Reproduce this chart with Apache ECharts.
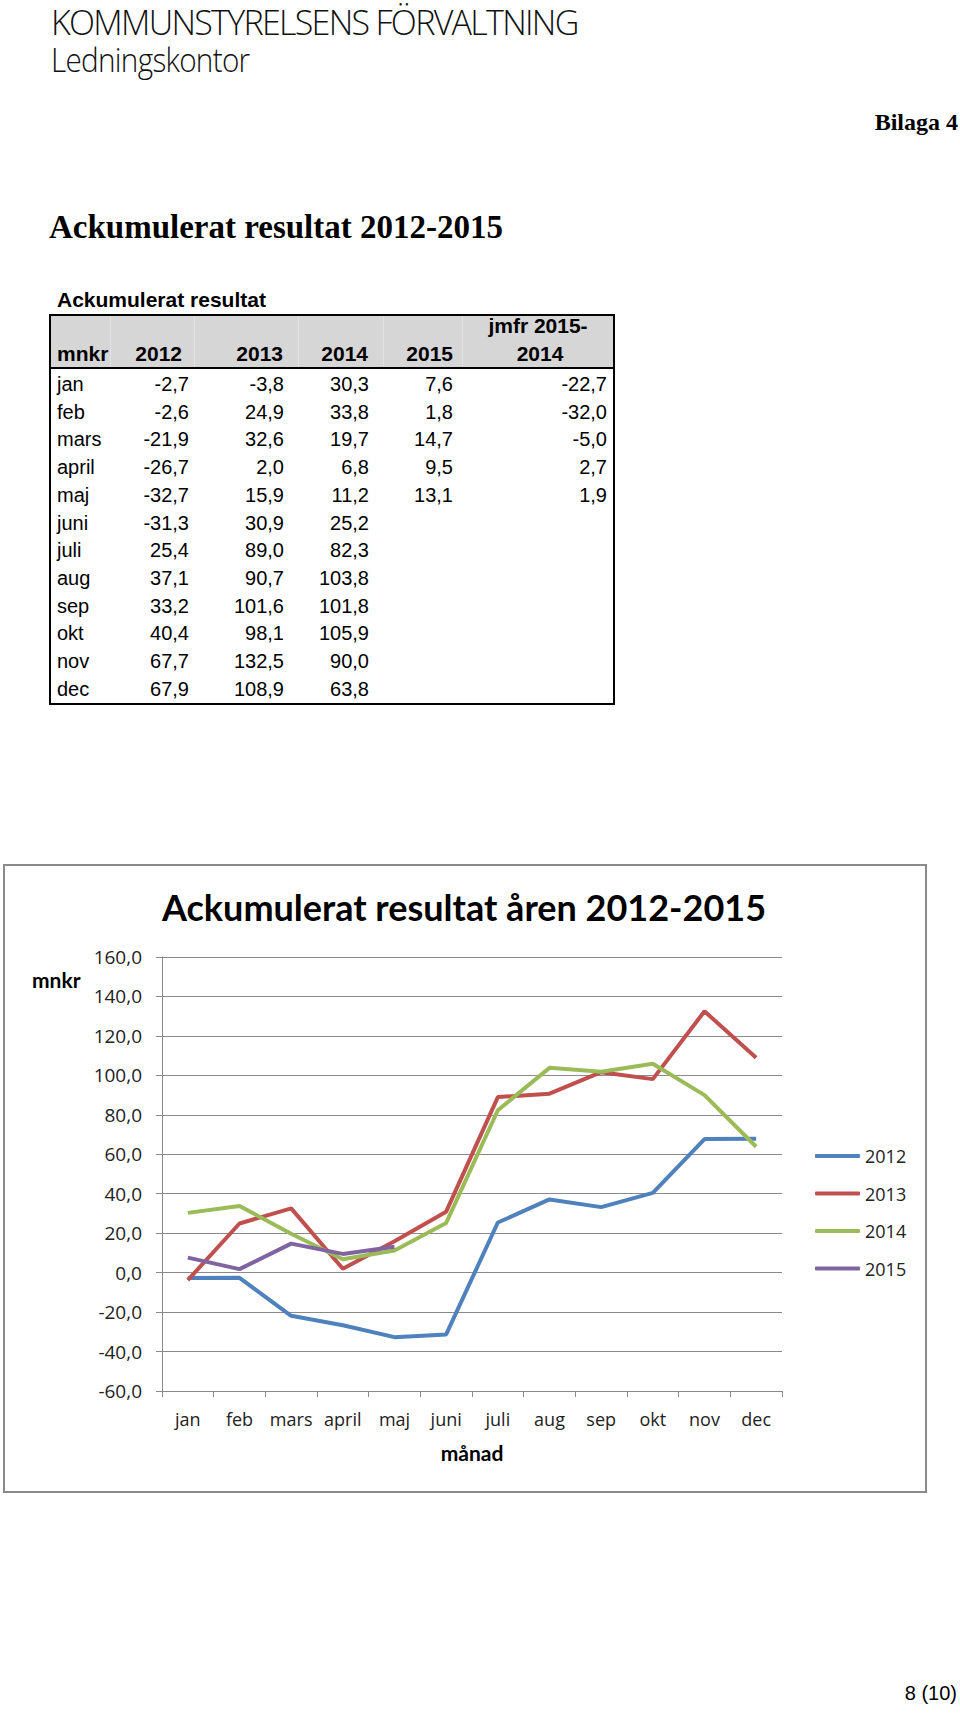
<!DOCTYPE html>
<html>
<head>
<meta charset="utf-8">
<script src="https://cdn.jsdelivr.net/npm/echarts@6/dist/echarts.min.js"></script>
<style>
  html, body { margin: 0; padding: 0; background: #fff; }
  #page { position: relative; width: 960px; height: 1715px; overflow: hidden; }
  #chart { position: absolute; left: 0; top: 0; width: 960px; height: 1715px; z-index: 0; }
  .t { position: absolute; white-space: nowrap; z-index: 1; line-height: 1; }
  .cell { position: absolute; white-space: nowrap; z-index: 2; font-family: "Liberation Sans", Arial, sans-serif; font-size: 20px; line-height: 1; color: #000; }
  .hd { font-weight: bold; font-size: 21px; }
</style>
</head>
<body>
<div id="page">
  <div id="chart"></div>
  <div class="t" style="left:51px; top:3.5px; font-family:'Open Sans',sans-serif; font-weight:300; font-size:34px; line-height:37px; letter-spacing:-1.7px; color:#111;">KOMMUNSTYRELSENS FÖRVALTNING<br><span style="display:inline-block; font-size:33px; line-height:37px; letter-spacing:-0.8px; transform:scaleX(0.9); transform-origin:left center;">Ledningskontor</span></div>
  <div class="t" style="right:2px; top:110px; font-family:'Liberation Serif',serif; font-weight:bold; font-size:24px; color:#000;">Bilaga 4</div>
  <div class="t" style="left:49px; top:211px; font-family:'Liberation Serif',serif; font-weight:bold; font-size:33px; color:#000;">Ackumulerat resultat 2012-2015</div>
  <div class="t" style="left:57px; top:289px; font-family:'Liberation Sans',Arial,sans-serif; font-weight:bold; font-size:21px; color:#000;">Ackumulerat resultat</div>
  <div id="table"></div>
  <div class="t" style="right:3px; top:1683px; font-family:'Liberation Sans',Arial,sans-serif; font-size:20px; color:#000;">8 (10)</div>
</div>
<script>
// ---- data ----
var months = ['jan','feb','mars','april','maj','juni','juli','aug','sep','okt','nov','dec'];
var seriesNames = ['2012','2013','2014','2015'];
var v2012 = [-2.7,-2.6,-21.9,-26.7,-32.7,-31.3,25.4,37.1,33.2,40.4,67.7,67.9];
var v2013 = [-3.8,24.9,32.6,2.0,15.9,30.9,89.0,90.7,101.6,98.1,132.5,108.9];
var v2014 = [30.3,33.8,19.7,6.8,11.2,25.2,82.3,103.8,101.8,105.9,90.0,63.8];
var v2015 = [7.6,1.8,14.7,9.5,13.1];
var jmfr = [-22.7,-32.0,-5.0,2.7,1.9];
var tableHeaders = ['mnkr','2012','2013','2014','2015'];
var jmfrHeader = ['jmfr 2015-','2014'];
var yMin = -60, yMax = 160, yStep = 20;
var colors = ['#4F81BD','#C0504D','#9BBB59','#8064A2'];

function fmt(v) { return v.toFixed(1).replace('.', ','); }

// ---- table (HTML) ----
(function buildTable() {
  var t = document.getElementById('table');
  var boxL = 49, boxT = 314, boxR = 615, boxB = 705, headB = 367;
  function div(cls, style, text) {
    var d = document.createElement('div');
    d.className = cls;
    d.setAttribute('style', style);
    if (text !== undefined) d.textContent = text;
    t.appendChild(d);
    return d;
  }
  div('cell', 'left:'+boxL+'px;top:'+boxT+'px;width:'+(boxR-boxL)+'px;height:'+(headB-boxT)+'px;background:#d6d6d6;z-index:1;');
  [110, 194, 298, 383, 462].forEach(function (x) {
    div('cell', 'left:'+x+'px;top:'+boxT+'px;width:1px;height:'+(headB-boxT)+'px;background:#e2e2e2;z-index:1;');
  });
  div('cell', 'left:'+boxL+'px;top:'+boxT+'px;width:'+(boxR-boxL-4)+'px;height:'+(boxB-boxT-4)+'px;border:2px solid #000;background:transparent;');
  div('cell', 'left:'+boxL+'px;top:'+headB+'px;width:'+(boxR-boxL)+'px;height:2px;background:#000;');
  var headRight = [182, 283, 368, 453];
  div('cell hd', 'left:57px;top:343px;', tableHeaders[0]);
  for (var i = 1; i < tableHeaders.length; i++) {
    div('cell hd', 'right:'+(960-headRight[i-1])+'px;top:343px;', tableHeaders[i]);
  }
  div('cell hd', 'left:438px;width:200px;text-align:center;top:315px;', jmfrHeader[0]);
  div('cell hd', 'left:440px;width:200px;text-align:center;top:343px;', jmfrHeader[1]);
  var cols = [v2012, v2013, v2014, v2015, jmfr];
  var re = [189, 284, 369, 453, 607];
  for (var r = 0; r < months.length; r++) {
    var y = 374 + r * 27.7;
    div('cell', 'left:57px;top:'+y+'px;', months[r]);
    for (var c = 0; c < cols.length; c++) {
      if (r < cols[c].length) {
        div('cell', 'right:'+(960-re[c])+'px;top:'+y+'px;', fmt(cols[c][r]));
      }
    }
  }
})();

// ---- chart ----
var chart = echarts.init(document.getElementById('chart'), null, { renderer: 'svg' });
var gridL = 162, gridT = 957, gridW = 620, gridH = 434;
var titleFont = 'Lato, "Open Sans", sans-serif';
var axisFont = '"Open Sans", Lato, sans-serif';
var option = {
  animation: false,
  color: colors,
  grid: { left: gridL, top: gridT, width: gridW, height: gridH, containLabel: false },
  graphic: [
    { type: 'rect', shape: { x: 4, y: 865, width: 922, height: 627 }, style: { fill: 'none', stroke: '#8a8a8a', lineWidth: 2 }, silent: true },
    { type: 'text', style: { text: 'Ackumulerat resultat åren 2012-2015', x: 464, y: 907, align: 'center', verticalAlign: 'middle', font: 'bold 36px ' + titleFont, fill: '#000' } },
    { type: 'text', style: { text: 'mnkr', x: 32, y: 979, verticalAlign: 'middle', font: 'bold 21px ' + titleFont, fill: '#000' } },
    { type: 'text', style: { text: 'månad', x: 472, y: 1452, align: 'center', verticalAlign: 'middle', font: 'bold 21px ' + titleFont, fill: '#000' } }
  ],
  legend: {
    orient: 'vertical', left: 815, top: 1147, padding: 0,
    data: seriesNames,
    icon: 'roundRect', itemWidth: 45, itemHeight: 4, itemGap: 19.5, itemTextGap: 5,
    textStyle: { fontFamily: axisFont, fontSize: 18, color: '#222' }
  },
  xAxis: {
    type: 'category', data: months, boundaryGap: true,
    axisLine: { onZero: false, lineStyle: { color: '#8a8a8a', width: 1 } },
    axisTick: { show: true, length: 6, lineStyle: { color: '#8a8a8a' } },
    axisLabel: { interval: 0, hideOverlap: false, fontFamily: axisFont, fontSize: 18, color: '#222', margin: 19 },
    splitLine: { show: false }
  },
  yAxis: {
    type: 'value', min: yMin, max: yMax, interval: yStep,
    axisLine: { show: true, lineStyle: { color: '#8a8a8a', width: 1 } },
    axisTick: { show: true, length: 6, lineStyle: { color: '#8a8a8a' } },
    axisLabel: { fontFamily: axisFont, fontSize: 19, color: '#222', margin: 20, formatter: function (v) { return fmt(v); } },
    splitLine: { show: true, lineStyle: { color: '#8a8a8a', width: 1 } }
  },
  series: [v2012, v2013, v2014, v2015].map(function (d, i) {
    return { name: seriesNames[i], type: 'line', data: d, symbol: 'none', lineStyle: { width: 4, color: colors[i] }, itemStyle: { color: colors[i] } };
  })
};
chart.setOption(option);
</script>
</body>
</html>
